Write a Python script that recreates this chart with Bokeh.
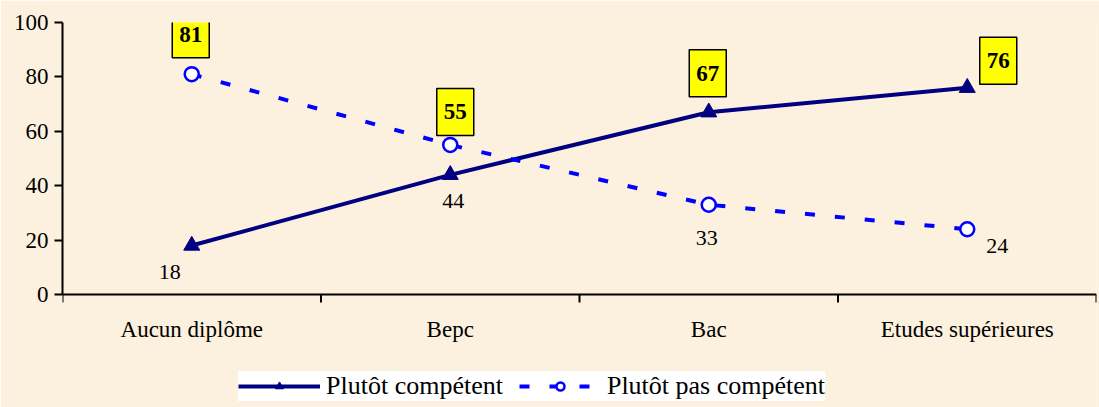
from bokeh.plotting import figure
from bokeh.models import (Range1d, LinearAxis, FixedTicker, Legend, LegendItem, ColumnDataSource, Span)
from bokeh.core.properties import value
from bokeh.embed import file_html
from bokeh.resources import INLINE

categories = ["Aucun diplôme", "Bepc", "Bac", "Etudes supérieures"]
competent = [18, 44, 67, 76]
pas_competent = [81, 55, 33, 24]
series_names = ["Plutôt compétent", "Plutôt pas compétent"]
y_ticks = [0, 20, 40, 60, 80, 100]

# label offsets (screen px) — styling only
comp_off = [(-22, 26), (3, 26), (-1, -39), (31, -27)]
pas_off = [(-1, -40), (5, -33), (-2, 33), (30, 17)]

FONT = "Liberation Serif"
BG = "#FBF1DE"

# layout constants (px)
W, H = 1099, 407
LEFT, TOP, RIGHT = 62, 22, 3
ZERO_PX = 294                      # screen row of y = 0
PX_Y = (ZERO_PX - TOP) / 100.0
Y_BOTTOM = -(H - ZERO_PX) / PX_Y   # frame extends to the bottom so the legend is not clipped

n = len(categories)
xpos = [i + 0.5 for i in range(n)]
bounds = list(range(n + 1))
PX_X = (W - LEFT - RIGHT) / n

p = figure(width=W, height=H, x_range=Range1d(0, n), y_range=Range1d(Y_BOTTOM, 100),
           output_backend="svg", toolbar_location=None,
           x_axis_location=None, y_axis_location=None,
           min_border_left=LEFT, min_border_top=TOP, min_border_right=RIGHT, min_border_bottom=0)
p.background_fill_color = BG
p.border_fill_color = BG
p.outline_line_color = None
p.xgrid.visible = False
p.ygrid.visible = False

yax = LinearAxis(ticker=FixedTicker(ticks=y_ticks, minor_ticks=[]), bounds=(0, 100),
                 major_tick_out=8, major_tick_in=0, minor_tick_out=0,
                 axis_line_width=2, major_tick_line_width=2,
                 major_label_text_font=FONT, major_label_text_font_size="23px",
                 major_label_text_color="black", major_label_standoff=6)
p.add_layout(yax, "left")

# x axis line at y = 0, boundary ticks and category labels
p.add_layout(Span(location=0, dimension="width", line_color="black", line_width=2))
p.ray(x=bounds, y=[0] * len(bounds), length=8, length_units="screen",
      angle=-90, angle_units="deg", line_color="black", line_width=2)
p.text(x=xpos, y=[0] * n, text=categories, y_offset=35,
       text_font=value(FONT), text_font_size="23px", text_color="black",
       text_align="center", text_baseline="middle")

src = ColumnDataSource(dict(x=xpos, comp=competent, pas=pas_competent))
l1 = p.line("x", "comp", source=src, line_color="#000080", line_width=4)
m1 = p.scatter("x", "comp", source=src, marker="triangle", size=16,
               fill_color="#000080", line_color="#000080")
l2 = p.line("x", "pas", source=src, line_color="#0000FF", line_width=4, line_dash="10 20")
m2 = p.scatter("x", "pas", source=src, marker="circle", size=14,
               fill_color="white", line_color="#0000FF", line_width=2.5)

box = dict(x=[], y=[], t=[], xo=[], yo=[], bx=[], by=[])
plain = dict(x=[], y=[], t=[], xo=[], yo=[])
for i in range(n):
    for vals, offs, other in ((competent, comp_off, pas_competent), (pas_competent, pas_off, competent)):
        if vals[i] > other[i]:
            d = box
            d["bx"].append(xpos[i] + offs[i][0] / PX_X)
            d["by"].append(vals[i] - offs[i][1] / PX_Y)
        else:
            d = plain
        d["x"].append(xpos[i])
        d["y"].append(vals[i])
        d["t"].append(str(vals[i]))
        d["xo"].append(offs[i][0])
        d["yo"].append(offs[i][1])

box_src = ColumnDataSource(box)
p.text(x="x", y="y", text="t", x_offset="xo", y_offset="yo", source=ColumnDataSource(plain),
       text_font=value(FONT), text_font_size="22px", text_color="black",
       text_align="center", text_baseline="middle")
p.rect(x="bx", y="by", width=37, height=47, width_units="screen", height_units="screen",
       source=box_src, fill_color="#FFFF00", line_color="black", line_width=1.5)
p.text(x="x", y="y", text="t", x_offset="xo", y_offset="yo", source=box_src,
       text_font=value(FONT), text_font_size="23px", text_font_style="bold", text_color="black",
       text_align="center", text_baseline="middle")

legend = Legend(items=[LegendItem(label=series_names[0], renderers=[l1, m1]),
                       LegendItem(label=series_names[1], renderers=[l2, m2])],
                orientation="horizontal", location=(176, 6),
                background_fill_color="white", background_fill_alpha=1,
                border_line_color=None, label_text_font=FONT, label_text_font_size="26px",
                label_text_color="black", glyph_width=82, glyph_height=20,
                label_standoff=6, spacing=16, padding=7, margin=0)
p.add_layout(legend, "center")

open("out.html", "w").write(file_html(p, INLINE))
